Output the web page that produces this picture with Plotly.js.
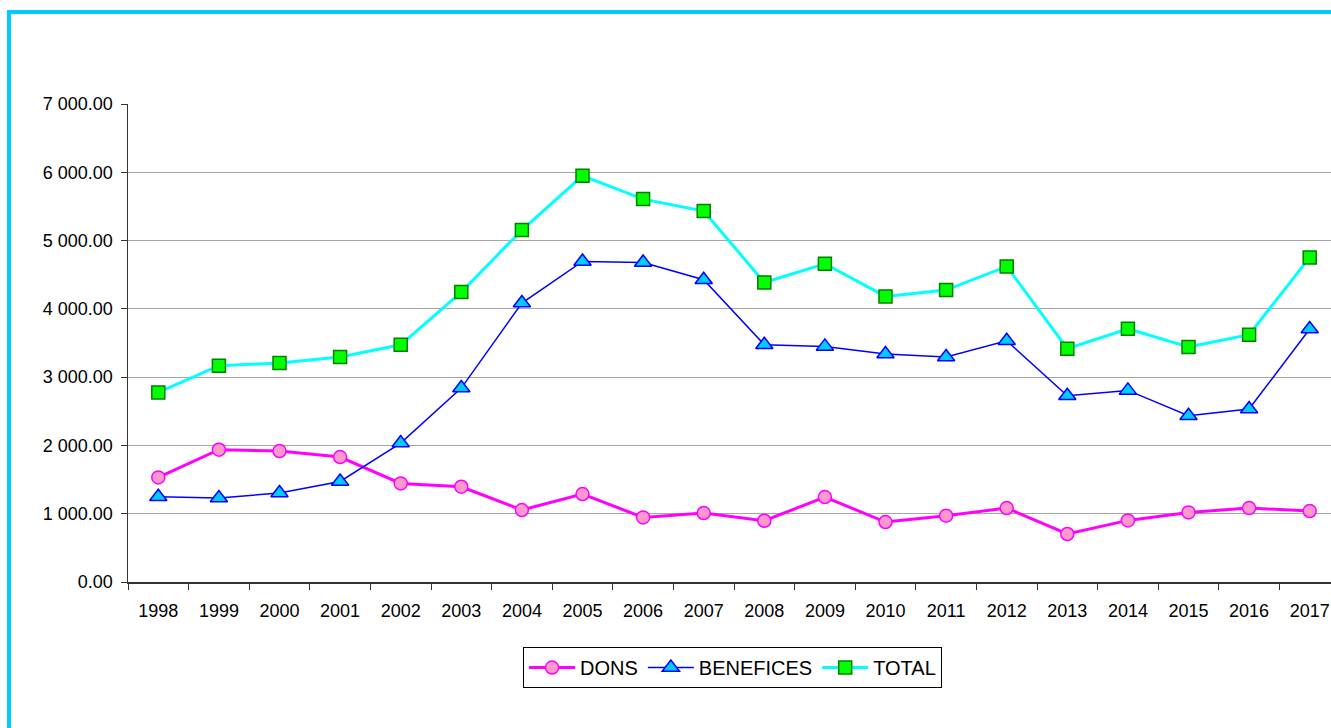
<!DOCTYPE html>
<html>
<head>
<meta charset="utf-8">
<script src="https://cdn.plot.ly/plotly-3.0.1.min.js"></script>
<style>
html,body{margin:0;padding:0;background:#fff;overflow:hidden;width:1331px;height:728px;}
#frame{position:absolute;left:7px;top:10px;width:1340px;height:730px;border-left:4px solid #00CCFF;border-top:4px solid #00CCFF;box-sizing:border-box;pointer-events:none;z-index:5;}
#chart{position:absolute;left:0;top:0;width:1341px;height:728px;}
</style>
</head>
<body>
<div id="chart"></div>
<div id="frame"></div>
<script>
const years = ['1998','1999','2000','2001','2002','2003','2004','2005','2006','2007','2008','2009','2010','2011','2012','2013','2014','2015','2016','2017'];
const dons = [1532,1937,1918,1830,1444,1395,1054,1288,946,1010,897,1244,878,971,1083,703,902,1019,1083,1039];
const benefices = [1249,1230,1303,1473,2035,2840,4085,4694,4680,4426,3474,3450,3338,3294,3533,2728,2806,2435,2533,3704];
const total = [2776,3167,3206,3294,3474,4246,5154,5949,5607,5432,4387,4660,4182,4275,4621,3416,3709,3441,3621,4753];
const yTicks = [0,1000,2000,3000,4000,5000,6000,7000];

const traces = [
  {x: years, y: dons, name: 'DONS', type: 'scatter', mode: 'lines+markers',
   line: {color: '#FF00FF', width: 3},
   marker: {symbol: 'circle', size: 13, color: '#FF99CC', line: {color: '#FF00FF', width: 1.5}}},
  {x: years, y: benefices, name: 'BENEFICES', type: 'scatter', mode: 'lines+markers',
   line: {color: '#0000FF', width: 1.5},
   marker: {symbol: 'triangle-up', size: 15, color: '#00CCFF', line: {color: '#0000FF', width: 1.5}}},
  {x: years, y: total, name: 'TOTAL', type: 'scatter', mode: 'lines+markers',
   line: {color: '#00FFFF', width: 3},
   marker: {symbol: 'square', size: 13, color: '#00FF00', line: {color: '#008000', width: 1.5}}}
];

const layout = {
  width: 1341, height: 728,
  margin: {l: 128, r: 1, t: 104, b: 146},
  paper_bgcolor: '#ffffff', plot_bgcolor: '#ffffff',
  separators: '. ',
  font: {family: 'Liberation Sans, Arial, sans-serif', size: 18, color: '#000'},
  showlegend: true,
  legend: {orientation: 'h', x: 0.4988, xanchor: 'center', y: -0.136, yanchor: 'top',
           bordercolor: '#000', borderwidth: 1, bgcolor: '#fff',
           font: {size: 20, family: 'Liberation Sans, Arial, sans-serif'},
           itemwidth: 46, tracegroupgap: 0},
  xaxis: {type: 'category', range: [-0.5, 19.5], showgrid: false, showline: true, linecolor: '#333', linewidth: 1.5,
          ticks: 'outside', tickson: 'boundaries', ticklen: 6, tickcolor: '#333',
          tickfont: {size: 18}, ticklabelstandoff: 12, fixedrange: true, zeroline: false},
  yaxis: {range: [0, 7000], tickvals: yTicks, tickformat: ',.2f', showgrid: true,
          gridcolor: '#A6A6A6', gridwidth: 1, showline: true, linecolor: '#333', linewidth: 1.5,
          ticks: 'outside', ticklen: 6, tickcolor: '#333', tickfont: {size: 18}, ticklabelstandoff: 4,
          zeroline: false, fixedrange: true}
};

Plotly.newPlot('chart', traces, layout, {displayModeBar: false, staticPlot: true});
</script>
</body>
</html>
